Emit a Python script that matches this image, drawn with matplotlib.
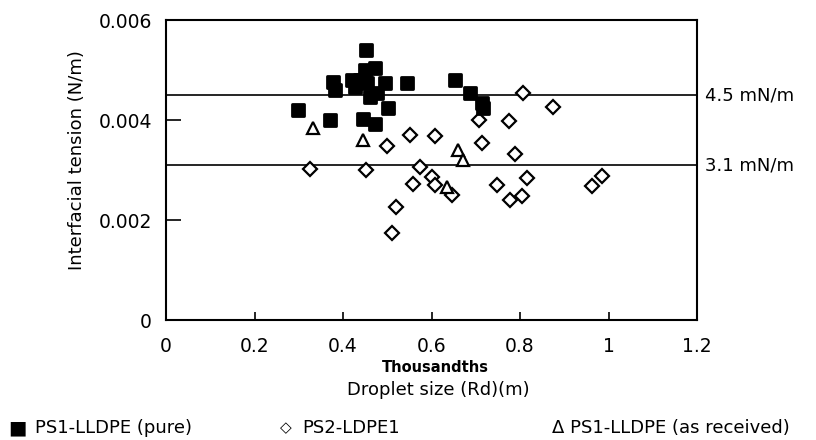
import matplotlib
matplotlib.use("Agg")
import matplotlib.pyplot as plt
from matplotlib.markers import MarkerStyle

# droplet size (thousandths of m) vs interfacial tension (N/m)
pure_x = [0.298, 0.371, 0.378, 0.382, 0.420, 0.427, 0.438, 0.445, 0.450, 0.452,
          0.454, 0.461, 0.472, 0.472, 0.477, 0.495, 0.502, 0.545, 0.653, 0.687,
          0.714, 0.716]
pure_y = [0.0042, 0.0040, 0.00476, 0.0046, 0.0048, 0.00466, 0.0048, 0.00402, 0.0050, 0.0054,
          0.00474, 0.00446, 0.00504, 0.00392, 0.00454, 0.00474, 0.00424, 0.00474, 0.0048, 0.00454,
          0.00434, 0.00424]

ldpe_x = [0.325, 0.452, 0.500, 0.511, 0.520, 0.551, 0.558, 0.574, 0.601, 0.608,
          0.608, 0.646, 0.707, 0.714, 0.748, 0.775, 0.777, 0.789, 0.804, 0.807,
          0.816, 0.875, 0.963, 0.985]
ldpe_y = [0.00302, 0.0030, 0.00348, 0.00174, 0.00226, 0.0037, 0.00272, 0.00306, 0.00286, 0.00368,
          0.0027, 0.0025, 0.0040, 0.00354, 0.0027, 0.00398, 0.0024, 0.00332, 0.00248, 0.00454,
          0.00284, 0.00426, 0.00268, 0.00288]

recv_x = [0.333, 0.445, 0.635, 0.660, 0.672]
recv_y = [0.00384, 0.0036, 0.00266, 0.0034, 0.0032]

ref_levels = [0.0045, 0.0031]
ref_labels = ["4.5 mN/m", "3.1 mN/m"]

legend_labels = ["PS1-LLDPE (pure)", "PS2-LDPE1", "PS1-LLDPE (as received)"]

fig = plt.figure(figsize=(8.16, 4.4), dpi=100)
ax = fig.add_axes([166 / 816, 120 / 440, 531 / 816, 300 / 440])

for lvl, lab in zip(ref_levels, ref_labels):
    ax.axhline(lvl, color="black", lw=1.2, zorder=1)
    ax.text(1.015, lvl, lab, transform=ax.get_yaxis_transform(), va="center",
            ha="left", fontsize=13)

ax.plot(ldpe_x, ldpe_y, ls="none", marker="D", ms=7, mfc="white", mec="black", mew=1.6, zorder=2)
ax.plot(recv_x, recv_y, ls="none", marker="^", ms=9, mfc="white", mec="black", mew=1.6, zorder=3)
ax.plot(pure_x, pure_y, ls="none", marker=MarkerStyle("s", joinstyle="round"), ms=8.5,
        mfc="black", mec="black", mew=2, zorder=4)

ax.set_xlim(0, 1.2)
ax.set_ylim(0, 0.006)
ax.set_xticks([0, 0.2, 0.4, 0.6, 0.8, 1.0, 1.2])
ax.set_xticklabels(["0", "0.2", "0.4", "0.6", "0.8", "1", "1.2"])
ax.set_yticks([0, 0.002, 0.004, 0.006])
ax.set_yticklabels(["0", "0.002", "0.004", "0.006"])
ax.tick_params(axis="x", direction="in", length=6, width=1.2, labelsize=13.5, pad=12)
ax.tick_params(axis="y", direction="in", length=11, width=1.2, labelsize=13.5, pad=10)
for sp in ax.spines.values():
    sp.set_linewidth(1.5)

fig.text(77 / 816, 1 - 160 / 440, "Interfacial tension (N/m)", rotation=90,
         ha="center", va="center", fontsize=13)
fig.text(435 / 816, 1 - 367 / 440, "Thousandths", ha="center", va="center",
         fontsize=10.5, fontweight="bold")
fig.text(438 / 816, 1 - 390 / 440, "Droplet size (Rd)(m)", ha="center", va="center",
         fontsize=13)

# legend row along the bottom
ly = 1 - 428 / 440
fig.text(8 / 816, ly, "\u25A0", ha="left", va="center", fontsize=14)
fig.text(35 / 816, ly, legend_labels[0], ha="left", va="center", fontsize=13)
fig.text(280 / 816, ly, "\u25C7", ha="left", va="center", fontsize=11)
fig.text(302 / 816, ly, legend_labels[1], ha="left", va="center", fontsize=13)
fig.text(552 / 816, ly, "\u0394 " + legend_labels[2], ha="left", va="center", fontsize=13)

fig.savefig("out.png", dpi=100, facecolor="white")
